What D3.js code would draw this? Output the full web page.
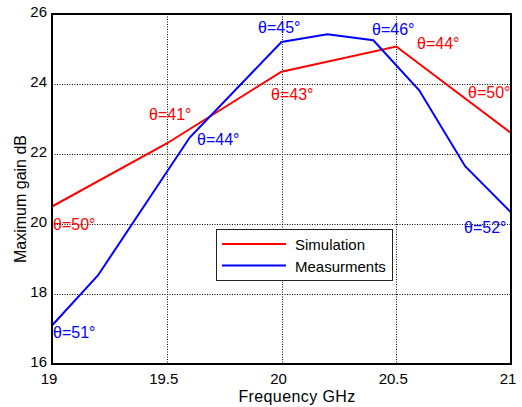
<!DOCTYPE html>
<html>
<head>
<meta charset="utf-8">
<script src="https://cdn.jsdelivr.net/npm/d3@7"></script>
<style>
  body { margin: 0; background: #fff; }
  svg { display: block; font-family: "Liberation Sans", Arial, sans-serif; }
</style>
</head>
<body>
<svg></svg>
<script>
const width = 522;
const height = 407;
const plot = {left: 52, right: 511, top: 14, bottom: 364};

// данные
const simFreq = [19, 19.5, 20, 20.5, 21];
const simGain = [20.5, 22.3, 24.35, 25.07, 22.6];
const simAngles = ["θ=50°", "θ=41°", "θ=43°", "θ=44°", "θ=50°"];

const measFreq = [19, 19.2, 19.6, 20, 20.2, 20.4, 20.6, 20.8, 21];
const measGain = [17.1, 18.53, 22.47, 25.2, 25.42, 25.25, 23.82, 21.65, 20.33];
const measAngles = ["θ=51°", "θ=44°", "θ=45°", "θ=46°", "θ=52°"];

const xTicks = [19, 19.5, 20, 20.5, 21];
const yTicks = [16, 18, 20, 22, 24, 26];
const legendNames = ["Simulation", "Measurments"];

let svg = d3.select("svg")
  .attr("width", width)
  .attr("height", height);

const scX = d3.scaleLinear().domain([19, 21]).range([plot.left, plot.right]);
const scY = d3.scaleLinear().domain([16, 26]).range([plot.bottom, plot.top]);

// сетка
svg.append("g")
  .selectAll("line")
  .data(xTicks.slice(1, -1))
  .enter().append("line")
  .attr("x1", d => Math.round(scX(d)) + 0.5)
  .attr("x2", d => Math.round(scX(d)) + 0.5)
  .attr("y1", plot.top)
  .attr("y2", plot.bottom)
  .attr("stroke", "#000")
  .attr("stroke-dasharray", "1,1.5");

svg.append("g")
  .selectAll("line")
  .data(yTicks.slice(1, -1))
  .enter().append("line")
  .attr("x1", plot.left)
  .attr("x2", plot.right)
  .attr("y1", d => Math.round(scY(d)) + 0.5)
  .attr("y2", d => Math.round(scY(d)) + 0.5)
  .attr("stroke", "#000")
  .attr("stroke-dasharray", "1,1.5");

// подписи делений
svg.append("g")
  .selectAll("text")
  .data(xTicks)
  .enter().append("text")
  .attr("x", d => scX(d) - 3)
  .attr("y", 384)
  .attr("text-anchor", "middle")
  .style("font-size", "15px")
  .text(d => d);

svg.append("g")
  .selectAll("text")
  .data(yTicks)
  .enter().append("text")
  .attr("x", 47)
  .attr("y", d => scY(d) + 3)
  .attr("text-anchor", "end")
  .style("font-size", "15px")
  .text(d => d);

// линии
function drawLine(xs, ys, color) {
  const pts = xs.map((x, i) => [x, ys[i]]);
  svg.append("path")
    .datum(pts)
    .attr("fill", "none")
    .attr("stroke", color)
    .attr("stroke-width", 2)
    .attr("d", d3.line().x(d => scX(d[0])).y(d => scY(d[1])));
}
drawLine(simFreq, simGain, "#ff0000");
drawLine(measFreq, measGain, "#0000ff");

// рамка
svg.append("rect")
  .attr("x", plot.left)
  .attr("y", plot.top)
  .attr("width", plot.right - plot.left)
  .attr("height", plot.bottom - plot.top)
  .attr("fill", "none")
  .attr("stroke", "#000")
  .attr("stroke-width", 2);

// подписи углов
const simLabelPos = [[53, 230], [149, 120], [271, 100], [417, 49], [468, 98]];
const measLabelPos = [[53, 338], [197, 145], [258, 33], [372, 35], [464, 233]];

function drawAngles(labels, pos, color) {
  svg.append("g")
    .selectAll("text")
    .data(labels)
    .enter().append("text")
    .attr("x", (d, i) => pos[i][0])
    .attr("y", (d, i) => pos[i][1])
    .attr("fill", color)
    .style("font-size", "16px")
    .text(d => d);
}
drawAngles(simAngles, simLabelPos, "#ff0000");
drawAngles(measAngles, measLabelPos, "#0000ff");

// легенда
let legend = svg.append("g").attr("transform", "translate(216, 229)");
legend.append("rect")
  .attr("x", 0.5)
  .attr("y", 0.5)
  .attr("width", 176)
  .attr("height", 51)
  .attr("fill", "#fff")
  .attr("stroke", "#222");
const legendColors = ["#ff0000", "#0000ff"];
legendNames.forEach((name, i) => {
  legend.append("line")
    .attr("x1", 6)
    .attr("x2", 70)
    .attr("y1", 15 + i * 21.5)
    .attr("y2", 15 + i * 21.5)
    .attr("stroke", legendColors[i])
    .attr("stroke-width", 2);
  legend.append("text")
    .attr("x", 79)
    .attr("y", 21 + i * 21.5)
    .style("font-size", "15px")
    .text(name);
});

// подписи осей
svg.append("text")
  .attr("x", 297)
  .attr("y", 402)
  .attr("text-anchor", "middle")
  .style("font-size", "16px")
  .style("letter-spacing", "0.4px")
  .text("Frequency GHz");

svg.append("text")
  .attr("transform", "translate(26, 199) rotate(-90)")
  .attr("text-anchor", "middle")
  .style("font-size", "16px")
  .text("Maximum gain dB");
</script>
</body>
</html>
